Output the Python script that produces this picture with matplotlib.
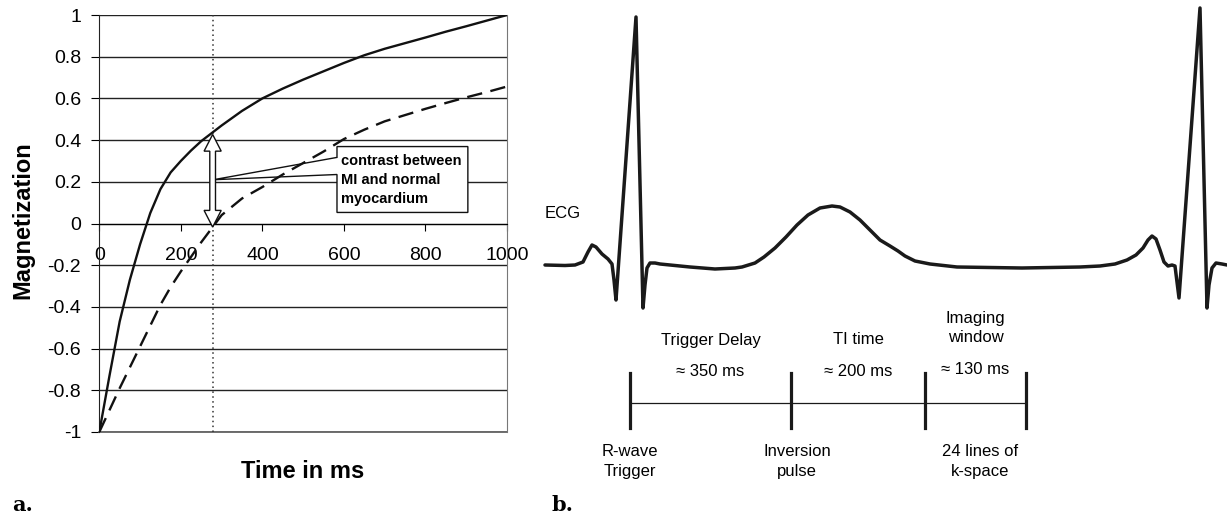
import numpy as np
import matplotlib.pyplot as plt
from matplotlib.patches import Polygon, Rectangle

plt.rcParams['font.family'] = ['Liberation Sans', 'DejaVu Sans']

# panel a: inversion recovery curves
time_ms = [0, 25, 50, 75, 100, 125, 150, 175, 200, 225, 250, 300, 350, 400, 450, 500,
           550, 600, 650, 700, 750, 800, 850, 900, 950, 1000]
mi_signal = [-1.0, -0.73, -0.47, -0.27, -0.1, 0.05, 0.165, 0.245, 0.30, 0.35, 0.395,
             0.47, 0.54, 0.60, 0.647, 0.69, 0.73, 0.77, 0.807, 0.838, 0.865, 0.892,
             0.92, 0.946, 0.973, 1.0]
normal_signal = [-1.0, -0.895, -0.79, -0.69, -0.59, -0.49, -0.39, -0.305, -0.23, -0.16,
                 -0.09, 0.04, 0.12, 0.175, 0.235, 0.29, 0.345, 0.405, 0.45, 0.49, 0.52,
                 0.55, 0.578, 0.605, 0.63, 0.657]
null_time = 278

x_ticks = [0, 200, 400, 600, 800, 1000]
y_ticks = [-1, -0.8, -0.6, -0.4, -0.2, 0, 0.2, 0.4, 0.6, 0.8, 1]
y_tick_labels = ['-1', '-0.8', '-0.6', '-0.4', '-0.2', '0', '0.2', '0.4', '0.6', '0.8', '1']

# panel b: schematic ECG (arbitrary time units, mV-ish amplitude)
ecg_t = [0, 20, 30, 38, 43, 47, 51, 57, 63, 67, 69, 71, 91, 98, 100, 102, 105, 110,
         115, 145, 170, 190, 197, 210, 219, 230, 241, 252, 263, 275, 287, 295, 305,
         315, 325, 335, 345, 353, 360, 370, 385, 412, 477, 535, 555, 570, 582, 591,
         598, 603, 607, 611, 615, 619, 623, 627, 630, 634, 655, 662, 664, 667, 671,
         677, 682]
ecg_mv = [0, -0.002, 0.0, 0.012, 0.052, 0.08, 0.072, 0.044, 0.024, 0.004, -0.06, -0.14,
          0.992, -0.172, -0.08, -0.012, 0.008, 0.008, 0.004, -0.008, -0.016, -0.012,
          -0.008, 0.008, 0.032, 0.068, 0.112, 0.16, 0.2, 0.228, 0.236, 0.232, 0.212,
          0.18, 0.14, 0.1, 0.076, 0.056, 0.036, 0.016, 0.004, -0.008, -0.012, -0.008,
          -0.004, 0.004, 0.02, 0.04, 0.068, 0.1, 0.116, 0.104, 0.06, 0.012, -0.004, 0.0,
          -0.004, -0.132, 1.028, -0.172, -0.08, -0.012, 0.008, 0.004, 0.0]
event_t = [85, 246, 380, 481]
segment_names = ['Trigger Delay', 'TI time', 'Imaging\nwindow']
segment_durations = ['\u2248 350 ms', '\u2248 200 ms', '\u2248 130 ms']

W, H = 1227, 514
fig = plt.figure(figsize=(W / 100, H / 100), dpi=100)

# ---------- panel a ----------
ax = fig.add_axes([99.3 / W, (H - 432) / H, (507 - 99.3) / W, (432 - 15) / H])
ax.plot(time_ms, mi_signal, color='#111111', lw=1.7, zorder=3)
ax.plot(time_ms, normal_signal, color='#111111', lw=1.7, ls=(0, (6.5, 3.6)), zorder=3)
ax.axvline(null_time, color='#333333', lw=1.1, ls=(0, (1, 2.2)), zorder=2)

ax.set_xlim(0, 1000)
ax.set_ylim(-1, 1)
ax.set_xticks(x_ticks)
ax.set_xticklabels([str(t) for t in x_ticks])
ax.set_yticks(y_ticks)
ax.set_yticklabels(y_tick_labels)
ax.spines['bottom'].set_position(('data', 0))
ax.spines['top'].set_visible(False)
ax.spines['right'].set_color('#777777')
ax.spines['left'].set_color('#222222')
ax.yaxis.grid(True, color='#222222', lw=1.0)
ax.axhline(-1, color='#555555', lw=1.2, clip_on=False, zorder=1)
ax.set_axisbelow(True)
ax.tick_params(axis='y', direction='out', length=6, pad=7, labelsize=14)
ax.tick_params(axis='x', direction='out', length=5, pad=12, labelsize=14)

fig.text(23 / W, 1 - 220 / H, 'Magnetization', rotation=90, fontsize=17,
         fontweight='bold', ha='center', va='center')
fig.text(303 / W, 1 - 471 / H, 'Time in ms', fontsize=17, fontweight='bold',
         ha='center', va='center')

# callout box with wedge
bx0, bx1, by0, by1 = 583, 904, 0.053, 0.369
tip = (280, 0.21)
ax.add_patch(Rectangle((bx0, by0), bx1 - bx0, by1 - by0, facecolor='white',
                       edgecolor='none', zorder=2.5))
outline = [tip, (bx0, 0.235), (bx0, by0), (bx1, by0), (bx1, by1), (bx0, by1), (bx0, 0.317)]
ax.add_patch(Polygon(outline, closed=True, fill=False, edgecolor='#111111', lw=1.0, zorder=4))
ax.text(bx0 + 10, 0.21, 'contrast between\nMI and normal\nmyocardium', fontsize=10.5,
        fontweight='bold', ha='left', va='center', linespacing=1.45, zorder=5)

# hollow double arrow between the two curves at the null time
top = np.interp(null_time, time_ms, mi_signal) - 0.01
bot = np.interp(null_time, time_ms, normal_signal)
sw, hw, hl = 7, 21, 0.08
arrow = [(null_time, top), (null_time + hw, top - hl), (null_time + sw, top - hl),
         (null_time + sw, bot + hl), (null_time + hw, bot + hl), (null_time, bot),
         (null_time - hw, bot + hl), (null_time - sw, bot + hl),
         (null_time - sw, top - hl), (null_time - hw, top - hl)]
ax.add_patch(Polygon(arrow, closed=True, facecolor='white', edgecolor='#111111',
                     lw=1.0, zorder=5))

fig.text(12 / W, 1 - 505 / H, 'a.', family='DejaVu Serif', fontsize=15,
         fontweight='bold', ha='left', va='center')

# ---------- panel b ----------
axb = fig.add_axes([540 / W, 0, 687 / W, 1])
axb.axis('off')
axb.set_xlim(-5, 682)
axb.set_ylim((265 - 514) / 250, 265 / 250)
axb.plot(ecg_t, ecg_mv, color='#1a1a1a', lw=2.5, solid_joinstyle='round',
         solid_capstyle='round')
axb.text(0, 0.208, 'ECG', fontsize=12, ha='left', va='center')

line_y = -0.552
axb.plot([event_t[0], event_t[-1]], [line_y, line_y], color='#1a1a1a', lw=0.9)
for t in event_t:
    axb.plot([t, t], [line_y + 0.12, line_y - 0.1], color='#1a1a1a', lw=2.3)

lsp = 1.4
mids = [(a + b) / 2 for a, b in zip(event_t[:-1], event_t[1:])]
for m, name, dur in zip(mids, segment_names, segment_durations):
    two_lines = '\n' in name
    axb.text(m, -0.252 if two_lines else -0.3, name, fontsize=12, ha='center',
             va='center', linespacing=lsp)
    axb.text(m, -0.42 if two_lines else -0.428, dur, fontsize=12, ha='center', va='center')

axb.text(event_t[0], -0.785, 'R-wave\nTrigger', fontsize=12, ha='center', va='center',
         linespacing=lsp)
axb.text(event_t[1] + 6, -0.785, 'Inversion\npulse', fontsize=12, ha='center',
         va='center', linespacing=lsp)
axb.text(mids[2] + 5, -0.785, '24 lines of\nk-space', fontsize=12, ha='center',
         va='center', linespacing=lsp)

fig.text(551 / W, 1 - 505 / H, 'b.', family='DejaVu Serif', fontsize=15,
         fontweight='bold', ha='left', va='center')

fig.savefig('out.png', dpi=100, facecolor='white')
